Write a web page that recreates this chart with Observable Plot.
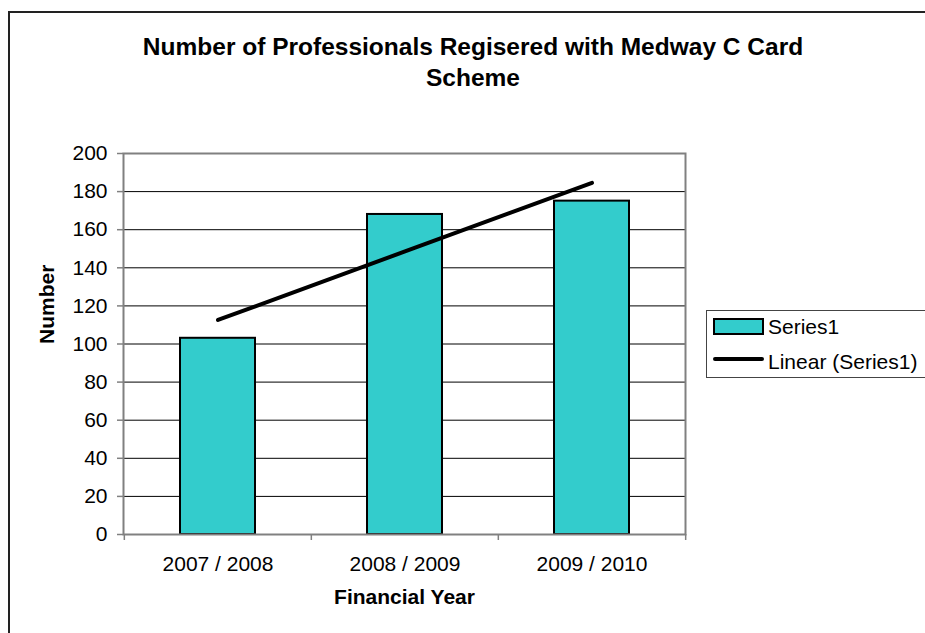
<!DOCTYPE html>
<html><head><meta charset="utf-8">
<script src="https://cdn.jsdelivr.net/npm/d3@7"></script>
<script src="https://cdn.jsdelivr.net/npm/@observablehq/plot@0.6"></script>
<style>
body{margin:0;background:#fff;}
#wrap{position:relative;width:925px;height:633px;overflow:hidden;background:#fff;font-family:"Liberation Sans",Arial,sans-serif;}
#chart{position:absolute;left:0;top:0;}
#border{position:absolute;left:8px;top:11px;width:1000px;height:1000px;border:2px solid #222;pointer-events:none;}
#title{position:absolute;left:0;top:30.8px;width:946px;text-align:center;font-weight:bold;font-size:24.5px;line-height:31.5px;color:#000;}
#legend{position:absolute;left:0;top:0;pointer-events:none;}
</style></head>
<body>
<div id="wrap"><div id="chart"></div><div id="border"></div><div id="title"></div><svg id="legend" width="925" height="633"></svg></div>
<script>
const years = ["2007 / 2008", "2008 / 2009", "2009 / 2010"];
const professionals = [103, 168, 175];
const trendValues = [112.6, 148.6, 184.6];
const yTicks = [0, 20, 40, 60, 80, 100, 120, 140, 160, 180, 200];
const gridTicks = [20, 40, 60, 80, 100, 120, 140, 160, 180];
const titleLines = ["Number of Professionals Regisered with Medway C Card", "Scheme"];
const xLabel = "Financial Year";
const yLabel = "Number";
const seriesName = "Series1";
const trendName = "Linear (Series1)";

const barColor = "#33CCCC";
const W = 925, H = 633, mL = 123, mR = 240, mT = 153, mB = 99;
const step = (W - mL - mR) / years.length;

const bars = years.map((y, i) => ({year: y, value: professionals[i]}));
const trend = years.map((y, i) => ({year: y, value: trendValues[i]}));

const chart = Plot.plot({
  width: W, height: H,
  marginLeft: mL, marginRight: mR, marginTop: mT, marginBottom: mB,
  style: {fontFamily: '"Liberation Sans", Arial, sans-serif', fontSize: "21px", color: "black", background: "transparent"},
  x: {domain: years, paddingInner: 0.6, paddingOuter: 0.3, label: null},
  y: {domain: [0, 200], label: null},
  marks: [
    Plot.ruleY(gridTicks, {stroke: "black", strokeWidth: 1}),
    Plot.barY(bars, {x: "year", y: "value", fill: barColor, stroke: "black", strokeWidth: 2}),
    Plot.frame({stroke: "#808080", strokeWidth: 2}),
    Plot.ruleX(years, {x: d => d, dx: -step / 2, y1: 0, y2: 0, insetBottom: -6, stroke: "#808080", strokeWidth: 1.5}),
    Plot.ruleX([years[years.length - 1]], {x: d => d, dx: step / 2, y1: 0, y2: 0, insetBottom: -6, stroke: "#808080", strokeWidth: 1.5}),
    Plot.line(trend, {x: "year", y: "value", stroke: "black", strokeWidth: 4, strokeLinecap: "round"}),
    Plot.axisY(yTicks, {tickSize: 6, tickPadding: 10, stroke: "#808080", strokeWidth: 1.5, fill: "black", label: null}),
    Plot.axisX({tickSize: 0, tickPadding: 22, fill: "black", label: null}),
    Plot.text([yLabel], {text: d => d, frameAnchor: "left", dx: -76, rotate: -90, fontWeight: "bold", fontSize: 21, fill: "black"}),
    Plot.text([xLabel], {text: d => d, frameAnchor: "bottom", dy: 69, fontWeight: "bold", fontSize: 21, fill: "black"})
  ]
});
document.getElementById("chart").appendChild(chart);

const t = document.getElementById("title");
titleLines.forEach((line, i) => {
  if (i) t.appendChild(document.createElement("br"));
  t.appendChild(document.createTextNode(line));
});

const lg = d3.select("#legend");
lg.append("rect").attr("x", 706.5).attr("y", 310.5).attr("width", 300).attr("height", 67)
  .attr("fill", "white").attr("stroke", "#444").attr("stroke-width", 1);
lg.append("rect").attr("x", 714).attr("y", 319).attr("width", 49).attr("height", 15)
  .attr("fill", barColor).attr("stroke", "black").attr("stroke-width", 2);
lg.append("line").attr("x1", 715).attr("x2", 762).attr("y1", 359).attr("y2", 359)
  .attr("stroke", "black").attr("stroke-width", 4).attr("stroke-linecap", "round");
lg.append("text").attr("x", 768).attr("y", 334).attr("font-size", 21)
  .attr("font-family", '"Liberation Sans", Arial, sans-serif').attr("fill", "black").text(seriesName);
lg.append("text").attr("x", 768).attr("y", 368.5).attr("font-size", 21)
  .attr("font-family", '"Liberation Sans", Arial, sans-serif').attr("fill", "black").text(trendName);
</script>
</body></html>
